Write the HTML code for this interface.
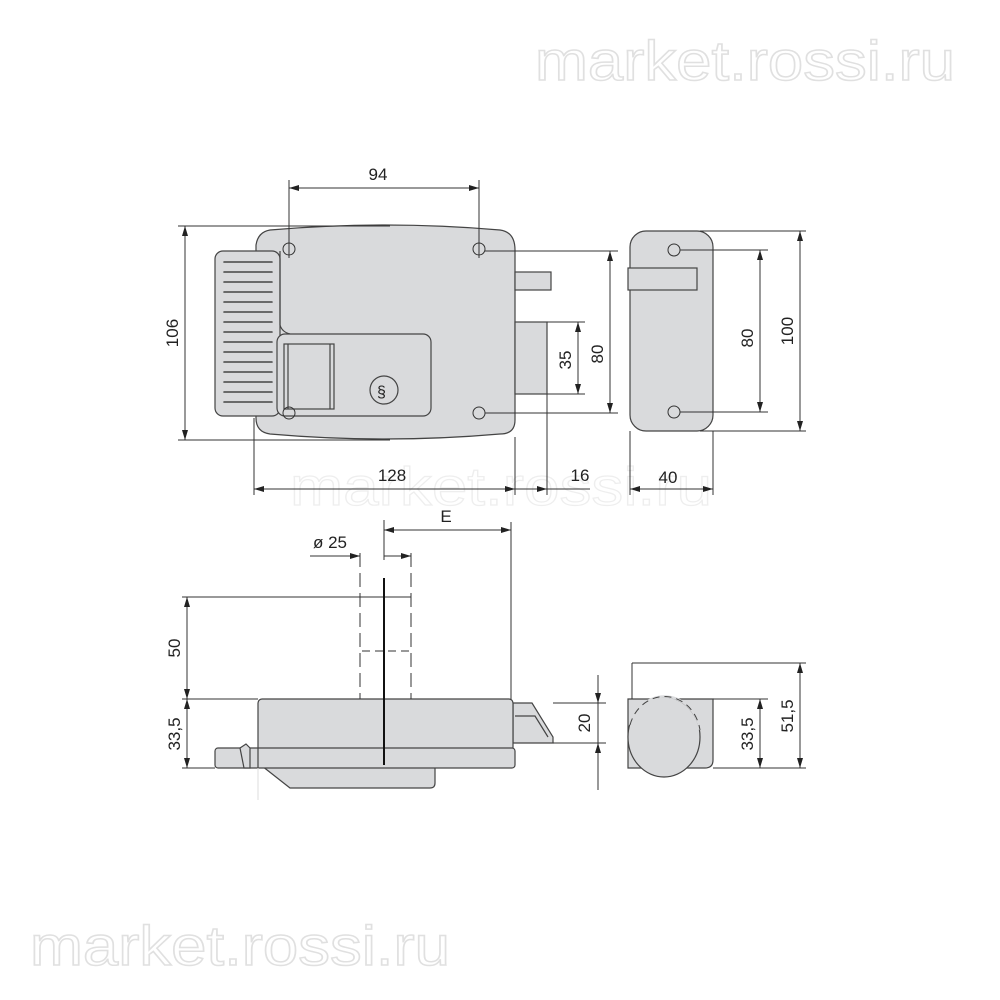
<!DOCTYPE html>
<html><head><meta charset="utf-8"><style>
html,body{margin:0;padding:0;background:#fff}
svg{display:block}
text{font-family:"Liberation Sans",sans-serif;fill:#222}
</style></head><body>
<svg width="1000" height="1000" viewBox="0 0 1000 1000" xmlns="http://www.w3.org/2000/svg">
<defs>
<marker id="a" viewBox="0 0 10 6" refX="10" refY="3" markerWidth="10" markerHeight="6" orient="auto-start-reverse" markerUnits="userSpaceOnUse"><path d="M0,0L10,3L0,6z" fill="#222"/></marker>
</defs>
<text x="535" y="80" font-size="56" textLength="420" lengthAdjust="spacingAndGlyphs" style="fill:none" stroke="#e0e0e0" stroke-width="1.5">market.rossi.ru</text>
<text x="30" y="965" font-size="56" textLength="420" lengthAdjust="spacingAndGlyphs" style="fill:none" stroke="#e0e0e0" stroke-width="1.5">market.rossi.ru</text>
<text x="290" y="505" font-size="54" textLength="422" lengthAdjust="spacingAndGlyphs" style="fill:none" stroke="#eeeeee" stroke-width="1.2">market.rossi.ru</text>

<g stroke="#444" stroke-width="1.2" fill="#d9dadc">
<path d="M270,230 Q385,220 500,230 Q515,232 515,250 L515,420 Q515,434 500,434 Q385,444 270,434 Q256,432 256,418 L256,245 Q258,232 270,230z"/>
<rect x="515" y="272" width="36" height="18" />
<rect x="515" y="322" width="32" height="72"/>
<rect x="215" y="251" width="65" height="165" rx="8"/>
<path d="M280,251 L280,325 Q282,332 290,334" fill="none"/>
<rect x="277" y="334" width="154" height="82" rx="8"/>
<rect x="284" y="344" width="50" height="65"/>
<line x1="288" y1="344" x2="288" y2="409"/>
<line x1="330" y1="344" x2="330" y2="409"/>
<circle cx="384" cy="390" r="14"/>
</g>
<g stroke="#444" stroke-width="1.6" stroke-linecap="round">
<line x1="224" y1="262" x2="272" y2="262"/><line x1="224" y1="272" x2="272" y2="272"/><line x1="224" y1="282" x2="272" y2="282"/><line x1="224" y1="292" x2="272" y2="292"/><line x1="224" y1="302" x2="272" y2="302"/><line x1="224" y1="312" x2="272" y2="312"/><line x1="224" y1="322" x2="272" y2="322"/><line x1="224" y1="332" x2="272" y2="332"/><line x1="224" y1="342" x2="272" y2="342"/><line x1="224" y1="352" x2="272" y2="352"/><line x1="224" y1="362" x2="272" y2="362"/><line x1="224" y1="372" x2="272" y2="372"/><line x1="224" y1="382" x2="272" y2="382"/><line x1="224" y1="392" x2="272" y2="392"/><line x1="224" y1="402" x2="272" y2="402"/>
</g>
<text x="377" y="397" font-size="16" fill="#222">§</text>
<g stroke="#333" stroke-width="1" fill="none">
<circle cx="289" cy="249" r="6"/><circle cx="479" cy="249" r="6"/><circle cx="289" cy="413" r="6"/><circle cx="479" cy="413" r="6"/>
<line x1="289" y1="180" x2="289" y2="258"/><line x1="479" y1="180" x2="479" y2="258"/>
<line x1="289" y1="188" x2="479" y2="188" marker-start="url(#a)" marker-end="url(#a)"/>
<line x1="178" y1="226" x2="390" y2="226"/><line x1="178" y1="440" x2="390" y2="440"/>
<line x1="185" y1="226" x2="185" y2="440" marker-start="url(#a)" marker-end="url(#a)"/>
<line x1="485" y1="251" x2="618" y2="251"/><line x1="485" y1="413" x2="618" y2="413"/>
<line x1="610" y1="251" x2="610" y2="413" marker-start="url(#a)" marker-end="url(#a)"/>
<line x1="547" y1="322" x2="585" y2="322"/><line x1="547" y1="394" x2="585" y2="394"/>
<line x1="578" y1="322" x2="578" y2="394" marker-start="url(#a)" marker-end="url(#a)"/>
<line x1="254" y1="418" x2="254" y2="495"/><line x1="515" y1="437" x2="515" y2="495"/><line x1="547" y1="394" x2="547" y2="495"/>
<line x1="254" y1="489" x2="515" y2="489" marker-start="url(#a)" marker-end="url(#a)"/>
<line x1="515" y1="489" x2="547" y2="489" marker-end="url(#a)"/>
<line x1="547" y1="489" x2="590" y2="489" />
</g>
<text x="378" y="180" font-size="17" text-anchor="middle">94</text>
<text transform="translate(178,333) rotate(-90)" font-size="17" text-anchor="middle">106</text>
<text transform="translate(603,354) rotate(-90)" font-size="17" text-anchor="middle">80</text>
<text transform="translate(571,360) rotate(-90)" font-size="17" text-anchor="middle">35</text>
<text x="392" y="481" font-size="17" text-anchor="middle">128</text>
<text x="580" y="481" font-size="17" text-anchor="middle">16</text>

<g stroke="#444" stroke-width="1.2" fill="#d9dadc">
<rect x="630" y="231" width="83" height="200" rx="16"/>
<rect x="628" y="268" width="69" height="22"/>
</g>
<g stroke="#333" stroke-width="1" fill="none">
<circle cx="674" cy="250" r="6"/><circle cx="674" cy="412" r="6"/>
<line x1="680" y1="250" x2="768" y2="250"/><line x1="680" y1="412" x2="768" y2="412"/>
<line x1="760" y1="250" x2="760" y2="412" marker-start="url(#a)" marker-end="url(#a)"/>
<line x1="700" y1="231" x2="806" y2="231"/><line x1="700" y1="431" x2="806" y2="431"/>
<line x1="800" y1="231" x2="800" y2="431" marker-start="url(#a)" marker-end="url(#a)"/>
<line x1="630" y1="431" x2="630" y2="495"/><line x1="713" y1="431" x2="713" y2="495"/>
<line x1="630" y1="489" x2="713" y2="489" marker-start="url(#a)" marker-end="url(#a)"/>
</g>
<text transform="translate(753,338) rotate(-90)" font-size="17" text-anchor="middle">80</text>
<text transform="translate(793,331) rotate(-90)" font-size="17" text-anchor="middle">100</text>
<text x="668" y="483" font-size="17" text-anchor="middle">40</text>

<g stroke="#444" stroke-width="1.2" fill="#d9dadc">
<path d="M258,766 L262,766 L290,788 L430,788 Q435,788 435,783 L435,766z"/>
<path d="M513,703 L532,703 L553,737 L553,743 L513,743z"/>
<path d="M515,716 L535,716 L548,737" fill="none"/>
<rect x="258" y="699" width="255" height="67" rx="4"/>
<rect x="215" y="748" width="300" height="20" rx="3"/>
<path d="M240,748 L246,744 L250,748 L250,768 L244,768z"/>
<line x1="258" y1="748" x2="258" y2="768"/>
</g>
<line x1="258" y1="768" x2="258" y2="800" stroke="#ddd"/>
<g stroke="#333" stroke-width="1" fill="none">
<line x1="360" y1="553" x2="360" y2="699" stroke-dasharray="14,6"/>
<line x1="411" y1="553" x2="411" y2="699" stroke-dasharray="14,6"/>
<line x1="362" y1="651" x2="411" y2="651" stroke-dasharray="8,5"/>
<line x1="384" y1="520" x2="384" y2="560"/>
<line x1="384" y1="530" x2="511" y2="530" marker-start="url(#a)" marker-end="url(#a)"/>
<line x1="511" y1="522" x2="511" y2="700"/>
<line x1="310" y1="556" x2="360" y2="556" marker-end="url(#a)"/>
<line x1="411" y1="556" x2="384" y2="556" marker-start="url(#a)"/>
<line x1="182" y1="597" x2="411" y2="597"/>
<line x1="182" y1="699" x2="258" y2="699"/>
<line x1="182" y1="768" x2="215" y2="768"/>
<line x1="187" y1="597" x2="187" y2="699" marker-start="url(#a)" marker-end="url(#a)"/>
<line x1="187" y1="699" x2="187" y2="768" marker-start="url(#a)" marker-end="url(#a)"/>
<line x1="553" y1="703" x2="606" y2="703"/><line x1="553" y1="743" x2="606" y2="743"/>
<line x1="598" y1="675" x2="598" y2="703" marker-end="url(#a)"/>
<line x1="598" y1="790" x2="598" y2="743" marker-end="url(#a)"/>
<line x1="598" y1="703" x2="598" y2="743"/>
</g>
<line x1="384" y1="578" x2="384" y2="765" stroke="#111" stroke-width="2"/>
<text x="446" y="522" font-size="17" text-anchor="middle">E</text>
<text x="330" y="548" font-size="17" text-anchor="middle">ø 25</text>
<text transform="translate(180,648) rotate(-90)" font-size="17" text-anchor="middle">50</text>
<text transform="translate(180,734) rotate(-90)" font-size="17" text-anchor="middle">33,5</text>
<text transform="translate(590,723) rotate(-90)" font-size="17" text-anchor="middle">20</text>

<g stroke="#444" stroke-width="1.2" fill="#d9dadc">
<path d="M628,699 L713,699 L713,760 Q713,768 705,768 L628,768z"/>
<ellipse cx="664" cy="737" rx="36" ry="40"/>
</g>
<path d="M630,725 A36,40 0 0 1 700,730" fill="none" stroke="#d9dadc" stroke-width="2.5"/>
<path d="M630,725 A36,40 0 0 1 700,730" fill="none" stroke="#444" stroke-dasharray="7,5"/>
<g stroke="#333" stroke-width="1" fill="none">
<line x1="632" y1="663" x2="632" y2="699"/>
<line x1="632" y1="663" x2="806" y2="663"/>
<line x1="713" y1="699" x2="768" y2="699"/>
<line x1="713" y1="768" x2="806" y2="768"/>
<line x1="760" y1="699" x2="760" y2="768" marker-start="url(#a)" marker-end="url(#a)"/>
<line x1="800" y1="663" x2="800" y2="768" marker-start="url(#a)" marker-end="url(#a)"/>
</g>
<text transform="translate(753,734) rotate(-90)" font-size="17" text-anchor="middle">33,5</text>
<text transform="translate(793,716) rotate(-90)" font-size="17" text-anchor="middle">51,5</text>
</svg>
</body></html>
